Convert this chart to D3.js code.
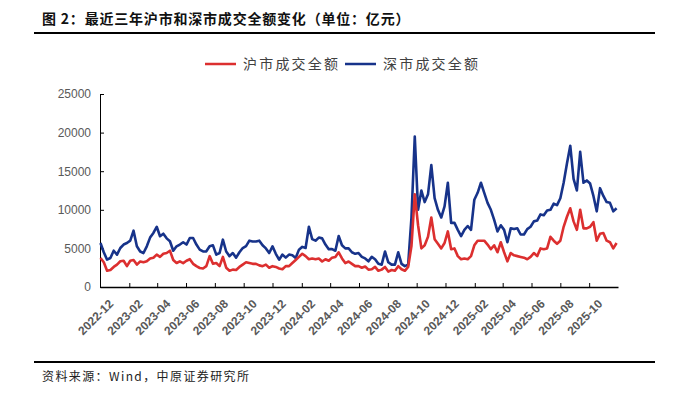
<!DOCTYPE html>
<html lang="zh">
  <head>
    <meta charset="UTF-8" />
    <title>最近三年沪市和深市成交全额变化</title>
    <style>
      body { margin: 0; background: #fff; }
      svg { display: block; }
      .axis text { font-family: "Liberation Sans", sans-serif; fill: #595959; }
      .axis line, .axis path { stroke: #000; }
    </style>
  </head>
  <body>
    <svg width="691" height="397"></svg>
    <script src="https://d3js.org/d3.v7.min.js"></script>
    <script>
      // 周度数据(每周五),单位:亿元
      const weekStart = new Date(2022, 11, 2);
      const weekEnd = new Date(2025, 11, 1);
      const seriesNames = ["沪市成交全额", "深市成交全额"];
      const seriesColors = ["#dc2f2f", "#17338a"];
      const shValues = [
        3760, 3200, 2100, 2200, 2600, 2900, 3330, 3400, 2700, 3400,
        3500, 2900, 3300, 3200, 3330, 3700, 3800, 4190, 3900, 4300,
        4400, 4700, 3500, 3110, 3330, 3100, 3400, 3600, 3000, 2700,
        2460, 2400, 2700, 4000, 3000, 3100, 2700, 3900, 2500, 2100,
        2250, 2200, 2600, 2900, 3200, 3100, 3000, 3000, 2800, 2700,
        2900, 2500, 2700, 2600, 2400, 2300, 2700, 2700, 3100, 3500,
        3900, 4300, 4000, 3600, 3700, 3600, 3700, 3300, 3600, 3400,
        3800, 3900, 4500, 3700, 3100, 3300, 3000, 2700, 2700, 2500,
        2650, 2250, 2300, 2600, 2100, 2250, 2600, 2000, 2200, 2100,
        2700, 2300, 2100, 2600, 5300, 12000, 8000, 5000, 5400, 6500,
        9000, 6200, 5600, 5000, 5700, 7200, 4900, 5000, 4000, 3600,
        3700, 3600, 4000, 5400, 6000, 6000, 6000, 5500, 4900, 5400,
        4500, 5800, 4500, 3330, 4400, 4100, 4000, 3900, 3800, 3600,
        3900, 4400, 4000, 5000, 4900, 5000, 6500, 6000, 5600, 6000,
        7800, 9100, 10200, 8500, 7400, 10000, 7600, 7600, 7800, 8400,
        6000, 6900, 7000, 6000, 5800, 5000, 5700
      ];
      const szValues = [
        5700, 4500, 3540, 3760, 4700, 4190, 5050, 5500, 5700, 6000,
        7300, 5270, 4600, 4400, 5270, 6400, 7000, 7800, 6570, 6900,
        6300, 5920, 4700, 5270, 5500, 5800, 5500, 6350, 6350, 5500,
        4840, 4600, 4620, 5270, 5400, 4190, 4400, 6130, 4600, 4000,
        4400, 3800, 4500, 5050, 5300, 6000, 5900, 5900, 6000, 5400,
        5000, 4400, 5270, 4300, 3540, 4200, 3800, 4200, 4100, 3760,
        4840, 5200, 5050, 7800, 6200, 6000, 6400, 6300, 5500, 4900,
        4900, 4700, 6600, 5400, 5000, 5000, 4500, 4300, 4400, 3900,
        3700, 3330, 3900, 3600, 3000, 2900, 4600, 3200, 2900, 2900,
        4500, 3000, 2700, 2900, 9000, 19500, 10000, 12500, 11000, 12000,
        15800, 11500, 10000, 9000, 10450, 13500, 8300, 8300, 7400, 6600,
        7400, 7900, 7400, 11300, 12200, 13500, 12200, 10900, 10000, 8700,
        7200, 8000, 7400, 5800, 7600, 7500, 7600, 6800, 6800, 7500,
        7800, 8500, 8600, 9400, 9300, 9900, 10000, 10800, 10600, 11500,
        13500, 16000, 18300, 14000, 12500, 17500, 13500, 13800, 13400, 11800,
        9800, 12800, 11800, 11000, 10900, 9800, 10200
      ];
      const xTickLabels = [
        "2022-12", "2023-02", "2023-04", "2023-06", "2023-08", "2023-10",
        "2023-12", "2024-02", "2024-04", "2024-06", "2024-08", "2024-10",
        "2024-12", "2025-02", "2025-04", "2025-06", "2025-08", "2025-10"
      ];
      const yTicks = [0, 5000, 10000, 15000, 20000, 25000];

      const svg = d3.select("svg");
      const cjk = '"Noto Sans CJK SC", sans-serif';

      // 标题
      svg.append("text")
        .attr("x", 42).attr("y", 24)
        .style("font-family", cjk).style("font-size", "14px")
        .style("font-weight", "bold").style("letter-spacing", "0.8px")
        .attr("fill", "#111")
        .text("图 2：最近三年沪市和深市成交全额变化（单位：亿元）");
      svg.append("line")
        .attr("x1", 34).attr("x2", 655).attr("y1", 33).attr("y2", 33)
        .attr("stroke", "#000").attr("stroke-width", 2);

      // 比例尺
      const parseMonth = d3.timeParse("%Y-%m");
      const weeks = d3.timeFriday.range(weekStart, weekEnd);
      const x = d3.scaleTime()
        .domain([new Date(2022, 11, 1), new Date(2025, 11, 1)])
        .range([100, 618]);
      const y = d3.scaleLinear().domain([0, 25000]).range([287, 94]);

      // 坐标轴
      const gx = svg.append("g")
        .attr("class", "axis")
        .attr("transform", "translate(0,287)")
        .call(d3.axisBottom(x)
          .tickValues(xTickLabels.map(parseMonth))
          .tickFormat(d3.timeFormat("%Y-%m"))
          .tickSizeInner(-4).tickSizeOuter(0).tickPadding(8));
      gx.select(".domain").attr("stroke-width", 1.5);
      gx.selectAll("text")
        .style("font-size", "12px")
        .style("font-weight", "bold")
        .attr("text-anchor", "end")
        .attr("dy", "0.35em")
        .attr("transform", "translate(5,9) rotate(-45)");

      const gy = svg.append("g")
        .attr("class", "axis")
        .attr("transform", "translate(100,0)")
        .call(d3.axisLeft(y).tickValues(yTicks)
          .tickFormat(d3.format("d"))
          .tickSizeInner(-4).tickSizeOuter(0).tickPadding(9));
      gy.selectAll("text").style("font-size", "12px");

      // 折线
      const line = d3.line()
        .x((d, i) => x(weeks[i]))
        .y(d => y(d));
      const series = [shValues, szValues];
      [1, 0].forEach(k => {
        svg.append("path")
          .datum(series[k])
          .attr("fill", "none")
          .attr("stroke", seriesColors[k])
          .attr("stroke-width", 2.6)
          .attr("stroke-linejoin", "round")
          .attr("d", line);
      });

      // 图例
      const legendX = [205, 345];
      seriesNames.forEach((name, k) => {
        const g = svg.append("g").attr("transform", "translate(" + legendX[k] + ",64)");
        g.append("line")
          .attr("x1", 0).attr("x2", 31)
          .attr("stroke", seriesColors[k]).attr("stroke-width", 2.5);
        g.append("text")
          .attr("x", 38).attr("y", 5)
          .style("font-family", cjk).style("font-size", "14px")
          .style("letter-spacing", "2.2px")
          .attr("fill", "#404040")
          .text(name);
      });

      // 来源
      svg.append("line")
        .attr("x1", 34).attr("x2", 655).attr("y1", 362).attr("y2", 362)
        .attr("stroke", "#000").attr("stroke-width", 2);
      svg.append("text")
        .attr("x", 42).attr("y", 381)
        .style("font-family", cjk).style("font-size", "12px")
        .style("letter-spacing", "1.4px")
        .attr("fill", "#222")
        .text("资料来源：Wind，中原证券研究所");
    </script>
  </body>
</html>
